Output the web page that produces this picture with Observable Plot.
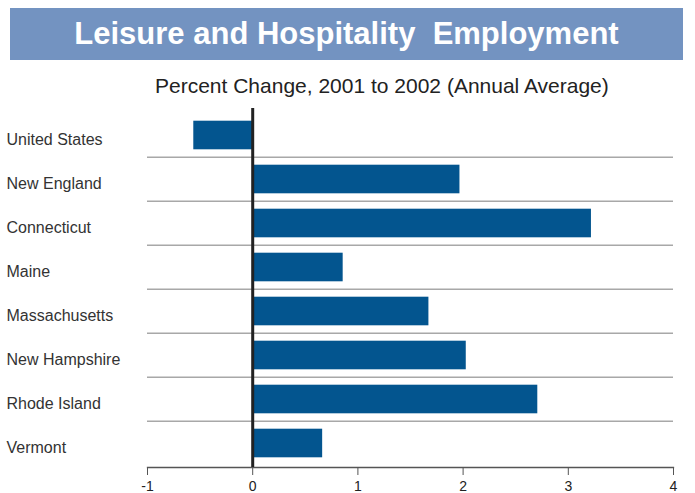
<!DOCTYPE html>
<html><head><meta charset="utf-8">
<script src="https://cdn.jsdelivr.net/npm/d3@7"></script>
<script src="https://cdn.jsdelivr.net/npm/@observablehq/plot@0.6"></script>
<style>
body{margin:0;background:#fff;font-family:"Liberation Sans",Arial,sans-serif;}
#wrap{position:relative;width:695px;height:493px;overflow:hidden;}
#banner{position:absolute;left:10px;top:8px;width:673px;height:52px;background:#7393c1;color:#fff;font-weight:bold;font-size:31px;text-align:center;line-height:52px;white-space:pre;}
#sub{position:absolute;left:155px;top:73px;font-size:21px;line-height:26px;color:#222;white-space:nowrap;}
#chart{position:absolute;left:0;top:100px;}
</style></head>
<body>
<div id="wrap">
  <div id="banner">Leisure and Hospitality  Employment</div>
  <div id="sub">Percent Change, 2001 to 2002 (Annual Average)</div>
  <div id="chart"></div>
</div>
<script>
const categories = ["United States","New England","Connecticut","Maine","Massachusetts","New Hampshire","Rhode Island","Vermont"];
const values = [-0.56, 1.97, 3.22, 0.86, 1.675, 2.03, 2.71, 0.665];
const xTicks = [-1, 0, 1, 2, 3, 4];

const data = categories.map((c, i) => ({region: c, value: values[i]}));

const W = 695, H = 393, mT = 8, mB = 26, mL = 147, mR = 22, insetT = 3;
const step = (H - mB - mT - insetT) / categories.length;

const chart = Plot.plot({
  width: W, height: H,
  marginTop: mT, marginBottom: mB, marginLeft: mL, marginRight: mR,
  style: {fontFamily: "Liberation Sans, Arial, sans-serif", background: "transparent", overflow: "visible"},
  x: {domain: [-1, 4]},
  y: {domain: categories, padding: 0, insetTop: insetT},
  marks: [
    Plot.ruleY(categories.slice(1), {y: d => d, dy: -step / 2, stroke: "#a8a8a8", strokeWidth: 1.4}),
    Plot.barX(data, {x: "value", y: "region", fill: "#03558f", insetTop: 7.7, insetBottom: 7.7}),
    Plot.frame({anchor: "bottom", stroke: "#555", strokeWidth: 1.3}),
    Plot.axisX({ticks: xTicks, tickFormat: d => String(d), tickSize: 8, tickPadding: 6, fontSize: 14, color: "#222", stroke: "#555", label: null}),
    Plot.axisY({tickSize: 0, tickPadding: 0, textAnchor: "start", dx: -141, dy: 4, fontSize: 16, color: "#333", label: null}),
    Plot.ruleX([0], {stroke: "#222", strokeWidth: 3})
  ]
});
document.getElementById("chart").appendChild(chart);
</script>
</body></html>
